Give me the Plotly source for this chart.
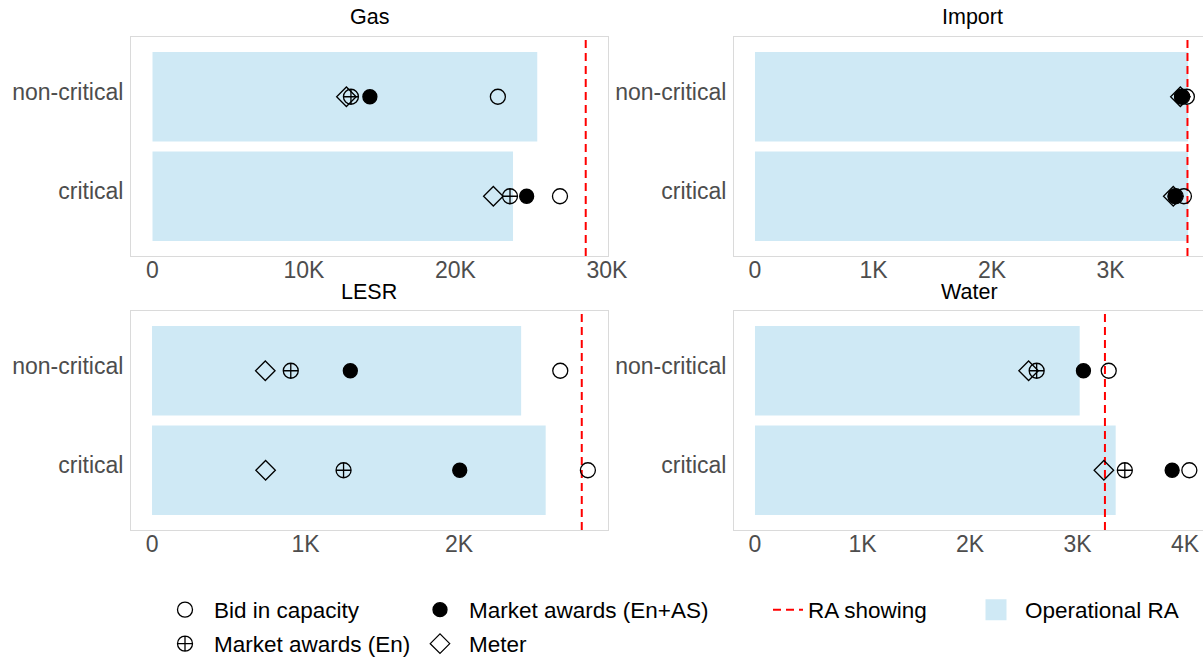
import plotly.graph_objects as go

# ---------------- data ----------------
categories = ["critical", "non-critical"]
panels = ["Gas", "Import", "LESR", "Water"]

operational_ra = {
    "Gas": [23800, 25400],
    "Import": [3655, 3655],
    "LESR": [2565, 2405],
    "Water": [3355, 3020],
}
ra_showing = {"Gas": 28600, "Import": 3650, "LESR": 2800, "Water": 3255}
bid_in_capacity = {
    "Gas": [26900, 22800],
    "Import": [3620, 3645],
    "LESR": [2840, 2660],
    "Water": [4040, 3290],
}
awards_en_as = {
    "Gas": [24700, 14350],
    "Import": [3545, 3600],
    "LESR": [2005, 1292],
    "Water": [3880, 3055],
}
awards_en = {
    "Gas": [23600, 13100],
    "Import": [3550, 3605],
    "LESR": [1248, 904],
    "Water": [3440, 2620],
}
meter = {
    "Gas": [22500, 12800],
    "Import": [3530, 3590],
    "LESR": [740, 738],
    "Water": [3245, 2545],
}
tick_vals = {
    "Gas": [0, 10000, 20000, 30000],
    "Import": [0, 1000, 2000, 3000],
    "LESR": [0, 1000, 2000],
    "Water": [0, 1000, 2000, 3000, 4000],
}
tick_text = {
    "Gas": ["0", "10K", "20K", "30K"],
    "Import": ["0", "1K", "2K", "3K"],
    "LESR": ["0", "1K", "2K"],
    "Water": ["0", "1K", "2K", "3K", "4K"],
}

# ---------------- layout geometry ----------------
W, H = 1203, 659
FONT = "Liberation Sans"
BAR_COLOR = "#CFE9F5"
BORDER = "#DADADA"
TICK_COLOR = "#4D4D4D"

def px_x(p):
    return p / W

def px_y(p):
    return 1 - p / H

x_ranges = {
    "Gas": [-1420, 30070],
    "Import": [-177, 3781],
    "LESR": [-137, 2971],
    "Water": [-195, 4167],
}
x_domains = {
    "Gas": [px_x(131), px_x(608)],
    "LESR": [px_x(131), px_x(608)],
    "Import": [px_x(734), 1.0],
    "Water": [px_x(734), 1.0],
}
y_domains = {
    "Gas": [px_y(256), px_y(37)],
    "Import": [px_y(256), px_y(37)],
    "LESR": [px_y(530), px_y(311)],
    "Water": [px_y(530), px_y(311)],
}
Y_RANGE = [-0.6, 1.6]
ypos = list(range(len(categories)))

fig = go.Figure()

marker_specs = [
    ("Bid in capacity", bid_in_capacity, "circle-open", 15, "legend"),
    ("Market awards (En+AS)", awards_en_as, "circle", 14, "legend2"),
    ("Market awards (En)", awards_en, "circle-cross-open", 15, "legend5"),
    ("Meter", meter, "diamond-open", 15, "legend6"),
]

for i, p in enumerate(panels):
    ax = "" if i == 0 else str(i + 1)
    xa, ya = "x" + ax, "y" + ax
    first = i == 0
    fig.add_trace(go.Bar(
        x=operational_ra[p], y=ypos, orientation="h", width=0.9,
        marker=dict(color=BAR_COLOR, line=dict(width=0)),
        xaxis=xa, yaxis=ya, showlegend=False, name="Operational RA",
    ))
    fig.add_trace(go.Scatter(
        x=[ra_showing[p], ra_showing[p]], y=Y_RANGE, mode="lines",
        line=dict(color="#FF0000", width=2, dash="8px,5px"),
        xaxis=xa, yaxis=ya, showlegend=first, name="RA showing", legend="legend3",
    ))
    for name, data, sym, size, leg in marker_specs:
        fig.add_trace(go.Scatter(
            x=data[p], y=ypos, mode="markers", name=name,
            marker=dict(symbol=sym, size=size, color="black",
                        line=dict(color="black", width=1.3)),
            xaxis=xa, yaxis=ya, showlegend=first, legend=leg,
        ))

# legend-only entry for the bar fill
fig.add_trace(go.Scatter(
    x=[None], y=[None], mode="markers", name="Operational RA",
    marker=dict(symbol="square", size=16, color=BAR_COLOR,
                line=dict(color=BAR_COLOR, width=5)),
    showlegend=True, legend="legend4",
))

layout = dict(
    width=W, height=H,
    margin=dict(l=0, r=0, t=0, b=0, autoexpand=False),
    paper_bgcolor="white", plot_bgcolor="white",
    font=dict(family=FONT, size=21, color="black"),
    barmode="overlay",
)

for i, p in enumerate(panels):
    ax = "" if i == 0 else str(i + 1)
    right = p in ("Import", "Water")
    layout["xaxis" + ax] = dict(
        domain=x_domains[p], range=x_ranges[p], anchor="y" + ax,
        tickvals=tick_vals[p], ticktext=tick_text[p],
        tickfont=dict(family=FONT, size=23, color=TICK_COLOR),
        showgrid=False, zeroline=False, ticks="",
        showline=True, mirror=True, linecolor=BORDER, linewidth=1,
        ticklabelstandoff=-7, fixedrange=True,
    )
    layout["yaxis" + ax] = dict(
        domain=y_domains[p], range=Y_RANGE, anchor="x" + ax,
        tickvals=ypos, ticktext=categories,
        tickfont=dict(family=FONT, size=23, color=TICK_COLOR),
        showgrid=False, zeroline=False, ticks="",
        showline=True, mirror=not right, linecolor=BORDER, linewidth=1,
        ticklabelstandoff=2, ticklabelshift=-5, fixedrange=True,
    )

annotations = []
title_pos = {"Gas": (369, 17), "Import": (972, 17), "LESR": (369, 292), "Water": (969, 292)}
for p in panels:
    xp, yp = title_pos[p]
    annotations.append(dict(
        text=p, x=px_x(xp), y=px_y(yp), xref="paper", yref="paper",
        xanchor="center", yanchor="middle", showarrow=False,
        font=dict(family=FONT, size=21.5, color="black"),
    ))
layout["annotations"] = annotations

leg_common = dict(orientation="v", xanchor="left", yanchor="middle",
                  bgcolor="rgba(0,0,0,0)",
                  font=dict(family=FONT, size=22.5, color="black"))
legend_pos = {
    "legend": (156, 610, 48),
    "legend2": (411, 610, 48),
    "legend3": (768, 610, 30),
    "legend4": (967, 610, 48),
    "legend5": (156, 644, 48),
    "legend6": (411, 644, 48),
}
for key, (lx, ly, iw) in legend_pos.items():
    layout[key] = dict(x=px_x(lx), y=px_y(ly), itemwidth=iw, **leg_common)

fig.update_layout(**layout)
fig.write_html(
    "out.html",
    post_script="document.body.style.margin='0';document.body.style.overflow='hidden';",
)
